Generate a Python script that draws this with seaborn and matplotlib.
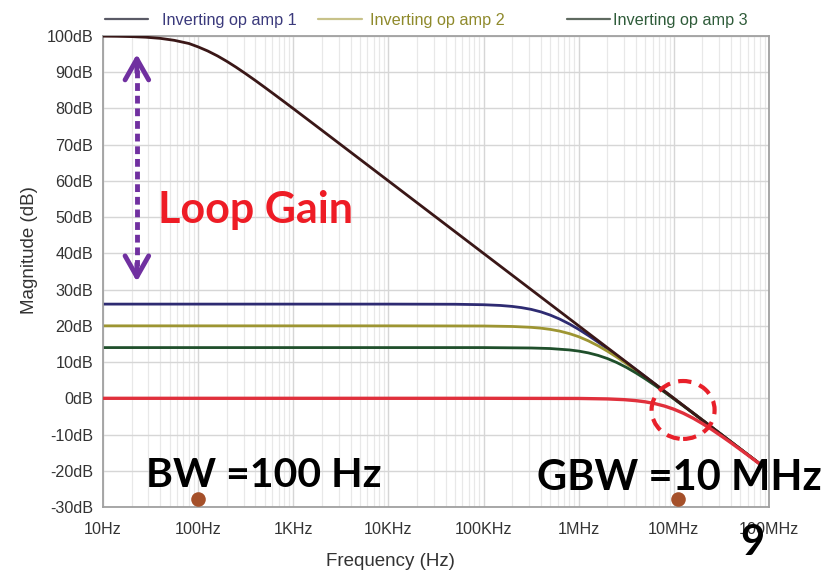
import matplotlib
matplotlib.use("Agg")
import matplotlib.pyplot as plt
import seaborn as sns
import pandas as pd
from matplotlib import font_manager as fm
from matplotlib.patches import Ellipse
from matplotlib.lines import Line2D
from matplotlib.ticker import FixedLocator, NullFormatter, LogLocator

# ---------------- data ----------------
freq_open = [10, 14, 20, 28, 40, 56, 80, 100, 126, 160, 200, 250, 316, 400, 500, 630,
             800, 1e3, 1.5e3, 2e3, 1e4, 1e5, 1e6, 1e7, 8e7]
mag_open = [99.96, 99.92, 99.83, 99.67, 99.35, 98.81, 97.93, 96.99, 95.87, 94.49, 93.01,
            91.40, 89.59, 87.70, 85.85, 83.90, 81.87, 79.96, 76.46, 73.97, 60.0, 40.0,
            20.0, 0.0, -18.06]

freq_amp1 = [10, 1e4, 5e4, 1e5, 1.5e5, 2e5, 2.5e5, 3.16e5, 4e5, 5e5, 6.3e5, 8e5, 1e6,
             1.26e6, 1.6e6, 2e6, 2.5e6, 3.16e6, 4e6, 5e6, 7e6, 1e7, 2e7, 5e7, 8e7]
mag_amp1 = [26, 26, 25.96, 25.83, 25.63, 25.36, 25.03, 24.55, 23.86, 22.99, 21.88, 20.50,
            19.03, 17.35, 15.51, 13.72, 11.87, 9.89, 7.89, 5.97, 3.07, -0.01, -6.0,
            -14.0, -18.07]

freq_amp2 = [10, 1e4, 1e5, 2e5, 3.16e5, 4e5, 5e5, 6.3e5, 8e5, 1e6, 1.26e6, 1.6e6, 2e6,
             2.5e6, 3.16e6, 4e6, 5e6, 7e6, 1e7, 2e7, 5e7, 8e7]
mag_amp2 = [20, 20, 19.96, 19.83, 19.59, 19.36, 19.03, 18.55, 17.85, 17.0, 15.87, 14.49,
            13.01, 11.40, 9.59, 7.70, 5.85, 3.01, -0.04, -6.03, -13.98, -18.06]

freq_amp3 = [10, 1e5, 3.16e5, 5e5, 8e5, 1e6, 1.26e6, 1.6e6, 2e6, 2.5e6, 3.16e6, 4e6,
             5e6, 6.3e6, 8e6, 1e7, 1.4e7, 2e7, 5e7, 8e7]
mag_amp3 = [14, 14, 13.89, 13.74, 13.35, 13.03, 12.54, 11.84, 10.98, 9.90, 8.55, 6.99,
            5.38, 3.60, 1.68, -0.17, -3.01, -6.07, -13.99, -18.07]

freq_unity = [10, 1e5, 1e6, 2e6, 3e6, 4e6, 5e6, 6.3e6, 8e6, 1e7, 1.26e7, 1.6e7, 2e7,
              2.5e7, 3.16e7, 4e7, 5.62e7, 8e7]
mag_unity = [0, 0, -0.04, -0.17, -0.37, -0.65, -0.97, -1.45, -2.15, -3.01, -4.13, -5.51,
             -6.99, -8.60, -10.41, -12.30, -15.13, -18.13]

series_labels = ["Inverting op amp 1", "Inverting op amp 2", "Inverting op amp 3"]
x_tick_vals = [10, 100, 1e3, 1e4, 1e5, 1e6, 1e7, 1e8]
x_tick_labels = ["10Hz", "100Hz", "1KHz", "10KHz", "100KHz", "1MHz", "10MHz", "100MHz"]
y_tick_vals = [-30, -20, -10, 0, 10, 20, 30, 40, 50, 60, 70, 80, 90, 100]
y_tick_labels = [f"{v}dB" for v in y_tick_vals]

marker_freqs = [100, 1.1e7]
marker_mags = [-27.8, -27.8]

# ---------------- style ----------------
sns.set_style("white")
names = {f.name for f in fm.fontManager.ttflist}
plt.rcParams["font.family"] = ["Liberation Sans", "DejaVu Sans"]
bold_family = "Lato" if "Lato" in names else "Open Sans"
W, H = 834, 574

fig = plt.figure(figsize=(W / 100, H / 100), dpi=100)
ax = fig.add_axes([103 / W, 1 - 507 / H, (769 - 103) / W, (507 - 36) / H])

def mk(f, m, name):
    return pd.DataFrame({"freq": f, "mag": m, "series": name})

df = pd.concat([
    mk(freq_open, mag_open, "open"),
    mk(freq_amp1, mag_amp1, series_labels[0]),
    mk(freq_amp2, mag_amp2, series_labels[1]),
    mk(freq_amp3, mag_amp3, series_labels[2]),
    mk(freq_unity, mag_unity, "unity"),
])

styles = [
    (series_labels[0], "#2e2b72", 2.0, 2),
    (series_labels[1], "#9d9532", 2.0, 2),
    (series_labels[2], "#1f4f2b", 2.0, 2),
    ("open", "#3a1717", 2.0, 3),
    ("unity", "#e0303c", 2.4, 4),
]
for name, col, lw, z in styles:
    sub = df[df["series"] == name]
    sns.lineplot(data=sub, x="freq", y="mag", color=col, linewidth=lw,
                 estimator=None, sort=False, ax=ax, zorder=z)

ax.set_xscale("log")
ax.set_xlim(10, 1e8)
ax.set_ylim(-30, 100)
ax.xaxis.set_major_locator(FixedLocator(x_tick_vals))
ax.set_xticklabels(x_tick_labels)
ax.xaxis.set_minor_locator(LogLocator(base=10, subs=range(2, 10)))
ax.xaxis.set_minor_formatter(NullFormatter())
ax.set_yticks(y_tick_vals)
ax.set_yticklabels(y_tick_labels)

ax.grid(True, which="major", color="#d6d6d6", linewidth=1.0)
ax.grid(True, which="minor", axis="x", color="#e8e8e8", linewidth=0.9)
ax.set_axisbelow(True)
for s in ax.spines.values():
    s.set_color("#a0a0a0")
    s.set_linewidth(1.3)
ax.tick_params(axis="both", which="major", colors="#9a9a9a", labelcolor="#333333",
               labelsize=11.6, length=5, width=1.2, direction="out")
ax.tick_params(axis="x", which="major", pad=8, length=3)
ax.tick_params(axis="y", which="major", pad=2)
ax.tick_params(axis="x", which="minor", colors="#b0b0b0", length=2, width=1)

ax.set_xlabel("Frequency (Hz)", fontsize=13.5, color="#333333")
ax.set_ylabel("Magnitude (dB)", fontsize=13.5, color="#333333")
ax.xaxis.set_label_coords(0.432, -0.098)
ax.yaxis.set_label_coords(-0.097, 0.546)

# legend across the top
leg_items = [
    (105, 148, 162, "#5a5a66", "#3b3a7c"),
    (318, 362, 370, "#c8c28a", "#8f8a2c"),
    (567, 610, 613, "#5f6a60", "#2f5c3a"),
]
for (x0, x1, xt, hc, tc), lab in zip(leg_items, series_labels):
    fig.add_artist(Line2D([x0 / W, x1 / W], [1 - 19 / H, 1 - 19 / H], color=hc,
                          lw=1.6, transform=fig.transFigure))
    fig.text(xt / W, 1 - 20 / H, lab, color=tc, fontsize=11.7, va="center", ha="left")

# purple double arrow (loop gain)
purple = "#7030a0"
ax.plot([22.7, 22.7], [90.5, 36.5], color=purple, lw=3.5, dashes=(1.6, 1.0),
        solid_capstyle="butt", dash_capstyle="butt", zorder=5)
ax.annotate("", xy=(22.7, 95), xytext=(22.7, 90),
            arrowprops=dict(arrowstyle="->,head_length=1.5,head_width=0.85",
                            color=purple, lw=3.5, shrinkA=0, shrinkB=0), zorder=5)
ax.annotate("", xy=(22.7, 32.2), xytext=(22.7, 37.2),
            arrowprops=dict(arrowstyle="->,head_length=1.5,head_width=0.85",
                            color=purple, lw=3.5, shrinkA=0, shrinkB=0), zorder=5)

# brown markers
ax.plot(marker_freqs, marker_mags, "o", color="#a5502a", markersize=10.5,
        markeredgewidth=0, zorder=6, clip_on=False)

# red dashed circle
ell = Ellipse((0.871, 0.206), 0.0946, 0.123, transform=ax.transAxes, fill=False,
              edgecolor="#e8202a", linewidth=3.0, linestyle=(0, (3.2, 2.0)), zorder=7)
ax.add_patch(ell)

# annotation texts
fig.text(158 / W, 1 - 223 / H, "Loop Gain", color="#ee1c25", fontsize=31,
         fontweight="bold", family=bold_family, va="baseline", ha="left")
fig.text(146 / W, 1 - 487 / H, "BW =100 Hz", color="black", fontsize=29.5,
         fontweight="bold", family=bold_family, va="baseline", ha="left")
fig.text(537 / W, 1 - 490 / H, "GBW =10 MHz", color="black", fontsize=30,
         fontweight="bold", family=bold_family, va="baseline", ha="left")
fig.text(740 / W, 1 - 555 / H, "9", color="black", fontsize=30,
         fontweight="bold", family=bold_family, va="baseline", ha="left")

fig.savefig("out.png", dpi=100)
